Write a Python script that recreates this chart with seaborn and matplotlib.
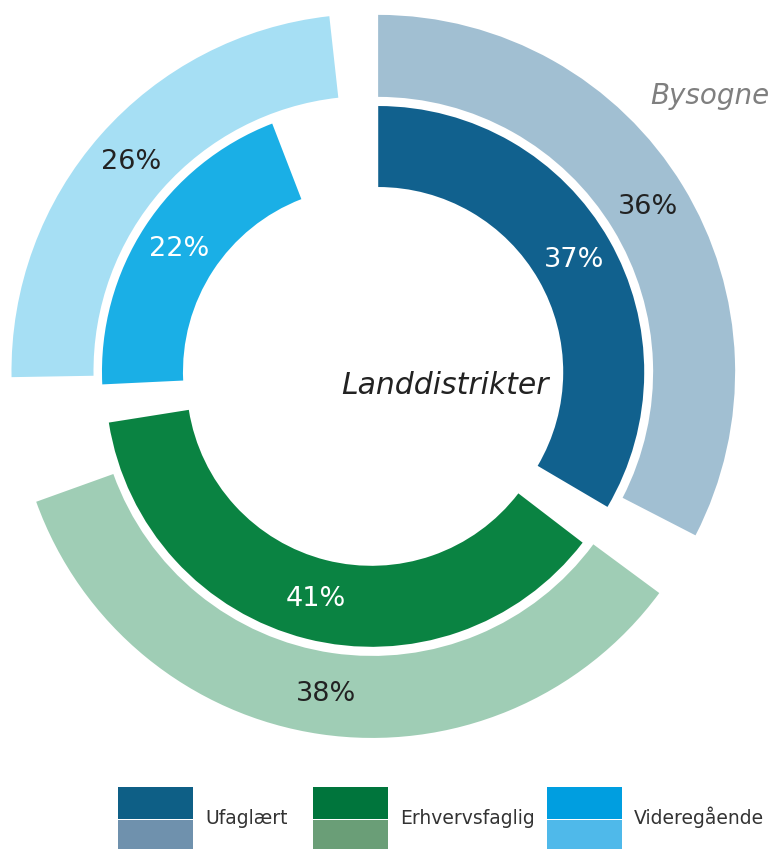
import matplotlib
matplotlib.use("Agg")
import matplotlib.pyplot as plt
from matplotlib.patches import Rectangle
import seaborn as sns

# data
categories = ["Ufaglært", "Erhvervsfaglig", "Videregående"]
landdistrikter = [37, 41, 22]   # inner ring
bysogne = [36, 38, 26]          # outer ring

# colours
inner_colors = ["#11618E", "#0A8342", "#1AAFE6"]
outer_colors = ["#A1BFD2", "#9FCDB5", "#A6DFF4"]
legend_top = ["#0E5F86", "#00753C", "#009EE0"]
legend_bottom = ["#6F91AD", "#6A9E77", "#4FB9EA"]

# angular gaps (degrees) after each wedge, and explosion
inner_gaps = [7.0, 6.3, 21.1]
outer_gaps = [9.2, 18.8, 6.3]
EXPLODE = 0.0168

sns.set_theme(style="white")
plt.rcParams["font.family"] = ["DejaVu Sans"]

W, H = 776, 849
CX, CY, R = 373, 375, 357

fig = plt.figure(figsize=(W / 100, H / 100), dpi=100)
ax = fig.add_axes([0, 0, 1, 1])


def ring(values, gaps, colors, radius, width, labeldist, textcolor):
    span = 360 - sum(gaps)
    vals, cols, labs, expl = [], [], [], []
    for v, g, c in zip(values, gaps, colors):
        vals += [v, g * 100 / span]
        cols += [c, "none"]
        labs += [f"{v}%", ""]
        expl += [EXPLODE, 0]
    _, texts = ax.pie(vals, colors=cols, labels=labs, explode=expl,
                      startangle=90, counterclock=False, radius=radius,
                      labeldistance=labeldist,
                      wedgeprops=dict(width=width, linewidth=0, edgecolor="none"))
    for t in texts:
        t.set_ha("center")
        t.set_va("center")
        t.set_color(textcolor)
        t.set_fontsize(19.5)


ring(bysogne, outer_gaps, outer_colors, 1.0, 82 / R, 0.885, "#222222")
ring(landdistrikter, inner_gaps, inner_colors, 266 / R, 81 / R, 0.848, "white")

ax.set_xlim(-CX / R, (W - CX) / R)
ax.set_ylim(-(H - CY) / R, CY / R)
ax.set_aspect("equal")
ax.axis("off")

ax.text((445 - CX) / R, (CY - 385) / R, "Landdistrikter", ha="center", va="center",
        fontsize=21.5, style="italic", color="#222222")
ax.text((770 - CX) / R, (CY - 96) / R, "Bysogne", ha="right", va="center",
        fontsize=20, style="italic", color="#7F7F7F")

# legend (two stacked swatches per category)
lax = fig.add_axes([0, 0, 1, 1])
lax.set_xlim(0, W)
lax.set_ylim(H, 0)
lax.axis("off")
for left, name, ct, cb in zip([118, 313, 547], categories, legend_top, legend_bottom):
    lax.add_patch(Rectangle((left, 787), 75, 32, color=ct, lw=0))
    lax.add_patch(Rectangle((left, 820), 75, 29, color=cb, lw=0))
    lax.text(left + 87, 824, name, ha="left", va="baseline", fontsize=13.5, color="#333333")

fig.savefig("out.png", dpi=100)
plt.close(fig)
